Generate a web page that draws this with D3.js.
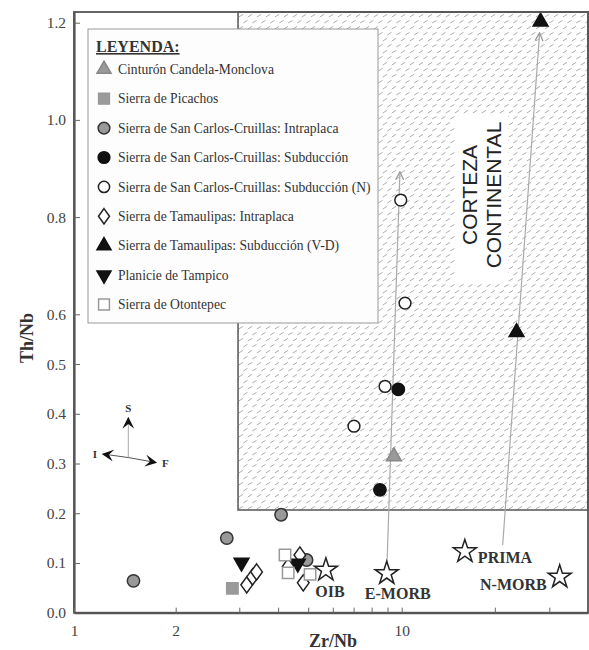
<!DOCTYPE html>
<html lang="es">
<head>
<meta charset="UTF-8">
<title>Th/Nb vs Zr/Nb</title>
<script src="https://cdn.jsdelivr.net/npm/d3@7"></script>
<style>
    body { margin: 0; background: #fff; }
    svg text { font-family: "Liberation Serif", "Times New Roman", serif; fill: #333; }
    .tick text { font-size: 15.5px; fill: #444; }
    .lbl { font-weight: bold; font-size: 16px; }
</style>
</head>
<body>
<svg width="589" height="650"></svg>
<script>
// ejes
var xTicks = [1, 2, 3, 4, 5, 6, 7, 8, 9, 10, 20, 30];
var xTickLabels = [1, 2, 10];
var yTicks = [0, 0.1, 0.2, 0.3, 0.4, 0.5, 0.6, 0.8, 1.0, 1.2];

// series (Zr/Nb, Th/Nb)
var candelaMonclova = [[9.44, 0.314]];
var picachos = [[2.87, 0.049]];
var sanCarlosIntra = [[1.50, 0.064], [2.77, 0.150], [4.09, 0.197], [4.94, 0.106]];
var sanCarlosSub = [[8.51, 0.247], [9.75, 0.449]];
var sanCarlosSubN = [[9.93, 0.835], [10.25, 0.623], [8.84, 0.455], [7.02, 0.375]];
var tamaulipasIntra = [[3.17, 0.056], [3.31, 0.072], [3.41, 0.082], [4.31, 0.093], [4.70, 0.116], [4.82, 0.060]];
var tamaulipasSub = [[28.1, 1.202], [23.5, 0.564]];
var tampico = [[3.05, 0.101], [4.63, 0.099]];
var otontepec = [[4.21, 0.116], [4.31, 0.080], [5.07, 0.077]];

// composiciones de referencia
var refNames = ["OIB", "E-MORB", "PRIMA", "N-MORB"];
var refValues = [[5.70, 0.086], [8.95, 0.079], [16.0, 0.123], [32.4, 0.072]];

// campo de corteza continental (esquina inferior izquierda)
var cortezaMin = [2.976, 0.2065];

// tendencias
var trendArrows = [
    [[8.97, 0.100], [9.87, 0.893]],
    [[21.2, 0.136], [27.9, 1.179]]
];
// S / I / F
var compassOrigin = [1.448, 0.312];
var compassEnds = [["S", 1.448, 0.3915], ["I", 1.218, 0.319], ["F", 1.748, 0.302]];

var legendLabels = [
    "Cinturón Candela-Monclova",
    "Sierra de Picachos",
    "Sierra de San Carlos-Cruillas: Intraplaca",
    "Sierra de San Carlos-Cruillas: Subducción",
    "Sierra de San Carlos-Cruillas: Subducción (N)",
    "Sierra de Tamaulipas: Intraplaca",
    "Sierra de Tamaulipas: Subducción (V-D)",
    "Planicie de Tampico",
    "Sierra de Otontepec"
];

(function () {
    var svg = d3.select("svg");

    var x = d3.scaleLog()
            .domain([1, 2, 3, 10, 40])
            .range([74, 175.7, 239.3, 401.7, 588]);
    var y = d3.scaleLinear()
            .domain([0, 0.6, 1.222])
            .range([612.7, 314.3, 12]);

    var diamondTall = {
        draw: function (ctx, size) {
            var h = Math.sqrt(size) * 0.62, w = h * 0.72;
            ctx.moveTo(0, -h);
            ctx.lineTo(w, 0);
            ctx.lineTo(0, h);
            ctx.lineTo(-w, 0);
            ctx.closePath();
        }
    };

    var styles = [
        {type: d3.symbolTriangle, size: 95, fill: "#9a9a9a", stroke: "#888", rot: 0},
        {type: d3.symbolSquare, size: 130, fill: "#9a9a9a", stroke: "#999", rot: 0},
        {type: d3.symbolCircle, size: 120, fill: "#999", stroke: "#333", rot: 0},
        {type: d3.symbolCircle, size: 120, fill: "#111", stroke: "#111", rot: 0},
        {type: d3.symbolCircle, size: 110, fill: "#fff", stroke: "#222", rot: 0},
        {type: diamondTall, size: 170, fill: "#fff", stroke: "#222", rot: 0},
        {type: d3.symbolTriangle, size: 95, fill: "#111", stroke: "#111", rot: 0},
        {type: d3.symbolTriangle, size: 95, fill: "#111", stroke: "#111", rot: 180},
        {type: d3.symbolSquare, size: 130, fill: "#fff", stroke: "#999", rot: 0}
    ];
    var series = [candelaMonclova, picachos, sanCarlosIntra, sanCarlosSub, sanCarlosSubN,
        tamaulipasIntra, tamaulipasSub, tampico, otontepec];

    var defs = svg.append("defs");
    // trama de guiones inclinados
    var pat = defs.append("pattern")
            .attr("id", "hatch")
            .attr("patternUnits", "userSpaceOnUse")
            .attr("width", 9)
            .attr("height", 12);
    pat.append("rect").attr("width", 9).attr("height", 12).attr("fill", "#fff");
    pat.append("path")
            .attr("d", "M0.3,11 L4.5,8.4 M4.8,5 L9,2.4")
            .attr("stroke", "#9c9c9c")
            .attr("stroke-width", 0.85);

    defs.append("marker")
            .attr("id", "open")
            .attr("viewBox", "0 0 10 10")
            .attr("refX", 9).attr("refY", 5)
            .attr("markerWidth", 10).attr("markerHeight", 10)
            .attr("markerUnits", "userSpaceOnUse")
            .attr("orient", "auto")
            .append("path")
            .attr("d", "M1,1 L9,5 L1,9")
            .attr("fill", "none")
            .attr("stroke", "#999")
            .attr("stroke-width", 1.3);
    defs.append("marker")
            .attr("id", "solid")
            .attr("viewBox", "0 0 10 10")
            .attr("refX", 9).attr("refY", 5)
            .attr("markerWidth", 12).attr("markerHeight", 12)
            .attr("markerUnits", "userSpaceOnUse")
            .attr("orient", "auto")
            .append("path")
            .attr("d", "M0,0 L10,5 L0,10 L4,5 Z")
            .attr("fill", "#111");

    // corteza continental
    svg.append("rect")
            .attr("x", x(cortezaMin[0]))
            .attr("y", y(1.222))
            .attr("width", x(40) - x(cortezaMin[0]))
            .attr("height", y(cortezaMin[1]) - y(1.222))
            .attr("fill", "url(#hatch)")
            .attr("stroke", "#555")
            .attr("stroke-width", 1.5);

    svg.append("rect")
            .attr("x", 455).attr("y", 115)
            .attr("width", 53).attr("height", 167)
            .attr("fill", "#fff");
    [["CORTEZA", 477], ["CONTINENTAL", 501]].forEach(function (t) {
        svg.append("text")
                .attr("transform", "translate(" + t[1] + ",195) rotate(-90)")
                .attr("text-anchor", "middle")
                .style("font-family", "'Liberation Sans', Arial, sans-serif")
                .style("font-size", "21px")
                .style("fill", "#222")
                .text(t[0]);
    });

    // flechas de tendencia
    svg.selectAll("line.trend")
            .data(trendArrows)
            .enter().append("line")
            .attr("class", "trend")
            .attr("x1", function (d) { return x(d[0][0]); })
            .attr("y1", function (d) { return y(d[0][1]); })
            .attr("x2", function (d) { return x(d[1][0]); })
            .attr("y2", function (d) { return y(d[1][1]); })
            .attr("stroke", "#aaa")
            .attr("stroke-width", 1.2)
            .attr("marker-end", "url(#open)");

    // leyenda
    var lg = svg.append("g");
    lg.append("rect")
            .attr("x", 88).attr("y", 29)
            .attr("width", 290).attr("height", 294)
            .attr("fill", "#fdfdfd")
            .attr("stroke", "#999");
    lg.append("text")
            .attr("x", 96).attr("y", 52)
            .style("font-weight", "bold")
            .style("font-size", "16px")
            .style("text-decoration", "underline")
            .text("LEYENDA:");
    var items = lg.selectAll("g.item")
            .data(legendLabels)
            .enter().append("g")
            .attr("class", "item")
            .attr("transform", function (d, i) { return "translate(104," + (69.3 + i * 29.4) + ")"; });
    items.append("path")
            .attr("d", function (d, i) { return d3.symbol(styles[i].type, styles[i].size * 0.9)(); })
            .attr("transform", function (d, i) { return "rotate(" + styles[i].rot + ")"; })
            .attr("fill", function (d, i) { return styles[i].fill; })
            .attr("stroke", function (d, i) { return styles[i].stroke; })
            .attr("stroke-width", 1.5);
    items.append("text")
            .attr("x", 14)
            .attr("dy", "0.35em")
            .style("font-size", "13.6px")
            .text(function (d) { return d; });

    // brújula S-I-F
    var cg = svg.append("g");
    cg.selectAll("line")
            .data(compassEnds)
            .enter().append("line")
            .attr("x1", x(compassOrigin[0]))
            .attr("y1", y(compassOrigin[1]))
            .attr("x2", function (d) { return x(d[1]); })
            .attr("y2", function (d) { return y(d[2]); })
            .attr("stroke", function (d) { return d[0] == "S" ? "#aaa" : "#555"; })
            .attr("stroke-width", 1)
            .attr("marker-end", "url(#solid)");
    cg.selectAll("text")
            .data(compassEnds)
            .enter().append("text")
            .attr("x", function (d) { return x(d[1]) + (d[0] == "I" ? -6 : d[0] == "F" ? 6 : 0); })
            .attr("y", function (d) { return y(d[2]) + (d[0] == "S" ? -6 : 4); })
            .attr("text-anchor", function (d) { return d[0] == "I" ? "end" : d[0] == "F" ? "start" : "middle"; })
            .style("font-weight", "bold")
            .style("font-size", "11px")
            .text(function (d) { return d[0]; });

    // puntos
    series.forEach(function (s, i) {
        var st = styles[i];
        svg.append("g").selectAll("path")
                .data(s)
                .enter().append("path")
                .attr("d", d3.symbol(st.type, st.size))
                .attr("transform", function (d) {
                    return "translate(" + x(d[0]) + "," + y(d[1]) + ") rotate(" + st.rot + ")";
                })
                .attr("fill", st.fill)
                .attr("stroke", st.stroke)
                .attr("stroke-width", 1.5);
    });

    // estrellas
    var labelPos = [[4, 27, "middle"], [11, 26, "middle"], [13, 11, "start"], [-13, 13, "end"]];
    var stars = svg.append("g").selectAll("g")
            .data(refValues)
            .enter().append("g")
            .attr("transform", function (d) { return "translate(" + x(d[0]) + "," + y(d[1]) + ")"; });
    stars.append("path")
            .attr("d", d3.symbol(d3.symbolStar, 165))
            .attr("fill", "#fff")
            .attr("stroke", "#222")
            .attr("stroke-width", 1.5);
    stars.append("text")
            .attr("class", "lbl")
            .attr("x", function (d, i) { return labelPos[i][0]; })
            .attr("y", function (d, i) { return labelPos[i][1]; })
            .attr("text-anchor", function (d, i) { return labelPos[i][2]; })
            .text(function (d, i) { return refNames[i]; });

    // ejes
    var yAxis = d3.axisLeft(y)
            .tickValues(yTicks)
            .tickFormat(d3.format(".1f"))
            .tickSizeInner(-6)
            .tickSizeOuter(0)
            .tickPadding(8);
    var xAxis = d3.axisBottom(x)
            .tickValues(xTicks)
            .tickFormat(function (d) { return xTickLabels.indexOf(d) >= 0 ? d : ""; })
            .tickSizeInner(-5)
            .tickSizeOuter(0)
            .tickPadding(12);

    svg.append("rect")
            .attr("x", 74).attr("y", 12)
            .attr("width", 514).attr("height", 600.7)
            .attr("fill", "none")
            .attr("stroke", "#555")
            .attr("stroke-width", 1.8);

    var gy = svg.append("g").attr("transform", "translate(74,0)").call(yAxis);
    var gx = svg.append("g").attr("transform", "translate(0,612.7)").call(xAxis);
    [gx, gy].forEach(function (g) {
        g.select(".domain").attr("stroke", "#555").attr("stroke-width", 2.2);
        g.selectAll(".tick line").attr("stroke", "#666").attr("stroke-width", 1);
        g.selectAll(".tick text").attr("font-family", null).attr("font-size", null);
    });

    svg.append("text")
            .attr("transform", "translate(33,338) rotate(-90)")
            .attr("text-anchor", "middle")
            .style("font-weight", "bold")
            .style("font-size", "18px")
            .text("Th/Nb");
    svg.append("text")
            .attr("x", 333).attr("y", 647)
            .attr("text-anchor", "middle")
            .style("font-weight", "bold")
            .style("font-size", "18px")
            .text("Zr/Nb");
})();
</script>
</body>
</html>
